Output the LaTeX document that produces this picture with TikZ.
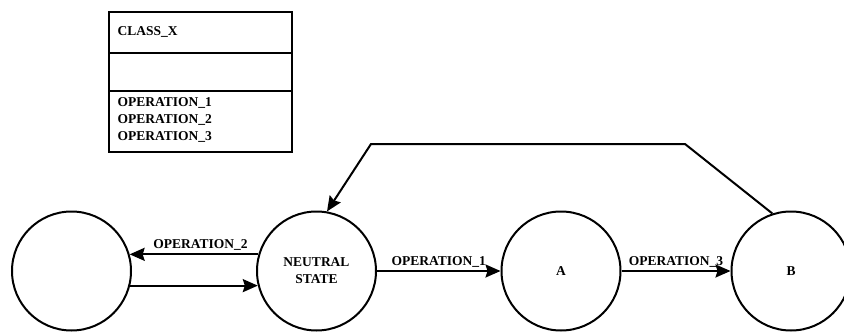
\documentclass[tikz,border=0pt]{standalone}
\usepackage{fontspec}
\setmainfont{Liberation Serif}
\usepackage{tikz}
\usetikzlibrary{calc,arrows.meta}

\begin{document}
\begin{tikzpicture}[x=1pt,y=-1pt,
    state/.style={circle,draw,line width=2pt,minimum size=119pt,inner sep=0pt},
    lbl/.style={font=\bfseries\fontsize{13.5}{17}\selectfont},
    trans/.style={line width=2pt,-{Stealth[length=15pt,width=13pt,inset=2pt]}}]
            \useasboundingbox (0,0) rectangle (844,332);
            % class box
            \draw[line width=2pt] (109,12) rectangle (292,152);
            \draw[line width=2pt] (109,53) -- (292,53);
            \draw[line width=2pt] (109,91) -- (292,91);
            \node[lbl,anchor=west] (cls) at (114,32){CLASS\_X};
            \node[lbl,anchor=west,align=left] (ops) at (114,120){OPERATION\_1\\OPERATION\_2\\OPERATION\_3};
            % states
            \node[state] (s0) at (71.5,271){};
            \node[state,lbl,align=center] (neutral) at (316.5,271){NEUTRAL\\STATE};
            \node[state,lbl] (sa) at (561,271){A};
            \node[state,lbl] (sb) at (791,271){B};
            % transitions
            \draw[trans] (neutral.164) -- node[lbl,above,pos=0.45]{OPERATION\_2} (s0.16);
            \draw[trans] (s0.-14) -- (neutral.194);
            \draw[trans] (neutral.east) -- node[lbl,above,yshift=-1pt]{OPERATION\_1} (sa.west);
            \draw[trans] (sa.east) -- node[lbl,above,yshift=-1pt]{OPERATION\_3} (sb.west);
            \coordinate (c1) at (685,144);
            \coordinate (c2) at (371,144);
            \draw[trans] (sb.108) -- (c1) -- (c2) -- (neutral.80);
\end{tikzpicture}
\end{document}
